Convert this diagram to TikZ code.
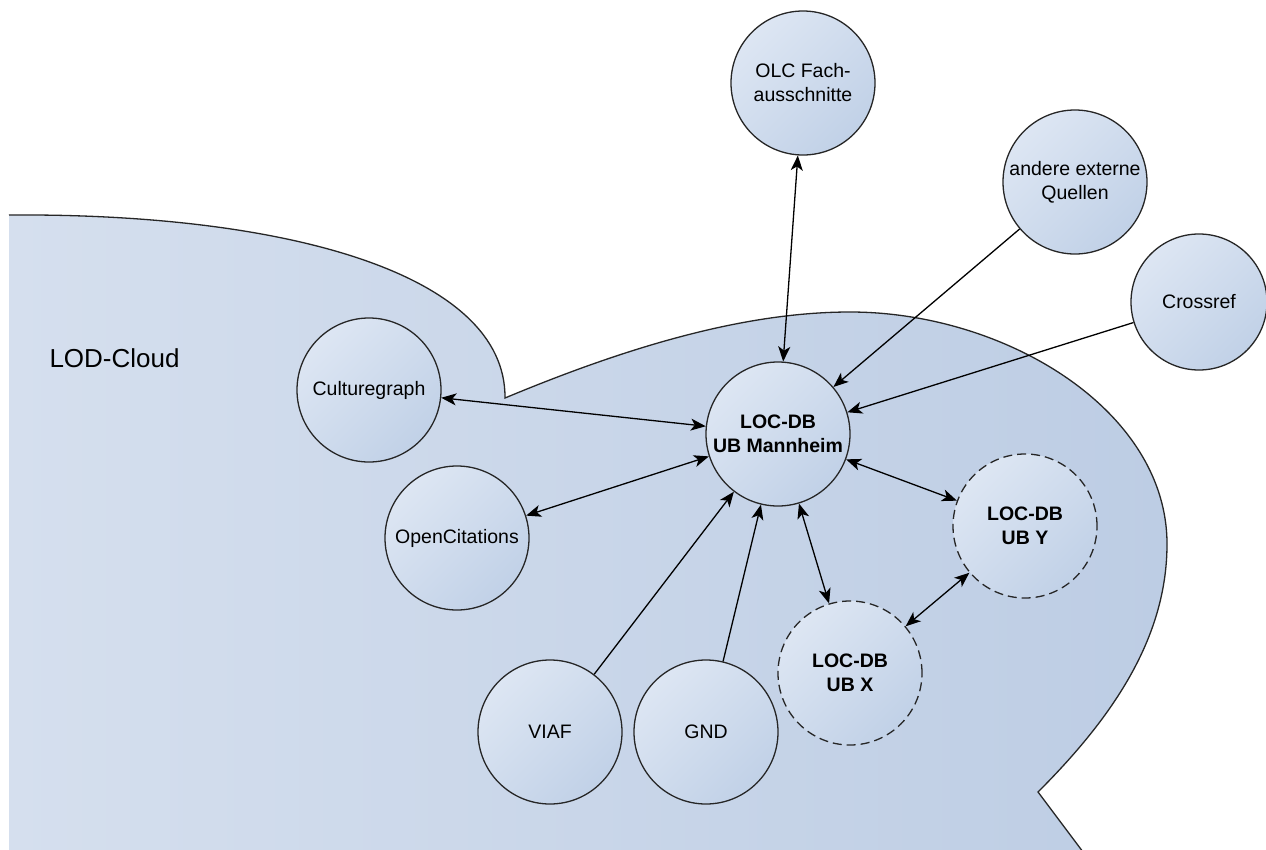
\documentclass[tikz,border=0pt]{standalone}
\usepackage{fontspec}
\setmainfont{Liberation Sans}
\usetikzlibrary{shapes.geometric, arrows.meta}
\definecolor{cloudlight}{HTML}{D5DFEE}
\definecolor{clouddark}{HTML}{BDCDE4}
\definecolor{nodelight}{HTML}{DDE6F3}
\definecolor{nodedark}{HTML}{C1D1E7}
\tikzstyle{source} = [circle,
minimum size=144pt,
inner sep=0pt,
align=center,
draw=black!85,
line width=1.3pt,
top color=nodelight,
bottom color=nodedark,
shading angle=45,
font=\fontsize{19.5}{24}\selectfont]
\tikzstyle{locdb} = [source,
font=\fontsize{19.5}{24}\selectfont\bfseries]
\tikzstyle{partner} = [locdb,
dash pattern=on 9pt off 5pt] % not yet connected
\tikzstyle{cloud} = [left color=cloudlight,
right color=clouddark]
\tikzstyle{outline} = [draw=black!85, line width=1.3pt]
\tikzstyle{arrow} = [line width=1.3pt, ->, >={Stealth[length=15pt,width=12pt,inset=4pt]}]

\begin{document}
\begin{tikzpicture}[x=1pt, y=-1pt]
			\useasboundingbox (0,0) rectangle (1266,849);
			\clip (0,0) rectangle (1266,849);
			\fill[white] (0,0) rectangle (1266,849);

			% LOD-Cloud (cut off at the left and bottom)
			\path[cloud] (9,880) -- (9,215)
				.. controls (290,213) and (506,275) .. (505,398)
				.. controls (620,350) and (740,312) .. (850,312)
				.. controls (1005,312) and (1167,410) .. (1167,544)
				.. controls (1167,640) and (1110,720) .. (1038,792)
				-- (1104,880) -- cycle;
			\draw[outline] (9,215)
				.. controls (290,213) and (506,275) .. (505,398)
				.. controls (620,350) and (740,312) .. (850,312)
				.. controls (1005,312) and (1167,410) .. (1167,544)
				.. controls (1167,640) and (1110,720) .. (1038,792)
				-- (1104,880);
			\node (lod) [anchor=base west, font=\fontsize{26}{30}\selectfont] at (46,367) {LOD-Cloud};

			\node (olc) [source] at (803,83) {OLC Fach-\\ausschnitte};
			\node (andere) [source] at (1075,182) {andere externe\\Quellen};
			\node (crossref) [source, minimum size=136pt] at (1199,302) {Crossref};
			\node (mannheim) [locdb] at (778,434) {LOC-DB\\UB Mannheim};
			\node (cgraph) [source] at (369,390) {Culturegraph};
			\node (opencit) [source] at (457,538) {OpenCitations};
			\node (viaf) [source] at (550,732) {VIAF};
			\node (gnd) [source] at (706,732) {GND};
			\node (ubx) [partner] at (850,673) {LOC-DB\\UB X};
			\node (uby) [partner] at (1025,526) {LOC-DB\\UB Y};

			\draw[arrow] (olc) edge[<->] (mannheim)
							(andere) edge (mannheim)
							(crossref) edge (mannheim)
							(cgraph) edge[<->] (mannheim)
							(opencit) edge[<->] (mannheim)
							(viaf) edge (mannheim)
							(gnd) edge (mannheim)
							(mannheim) edge[<->] (ubx)
							(mannheim) edge[<->] (uby)
							(ubx) edge[<->] (uby);
		\end{tikzpicture}
\end{document}
